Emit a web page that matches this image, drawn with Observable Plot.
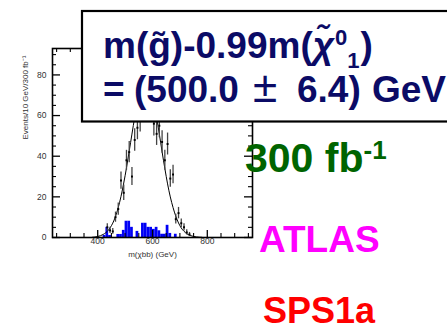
<!DOCTYPE html>
<html><head><meta charset="utf-8">
<script src="https://cdn.jsdelivr.net/npm/d3@7"></script>
<script src="https://cdn.jsdelivr.net/npm/@observablehq/plot@0.6"></script>
<style>
html,body{margin:0;padding:0;background:#fff;}
#chart{width:447px;height:324px;overflow:hidden;position:relative;}
</style></head><body><div id="chart"></div>
<script>
// ---- data ----
const binLeft  = [420,430,440,450,460,470,480,490,500,510,520,530,540,550,560,570,580,590,600,610,620,630,640,650,660,670,680,690];
const binCount = [1,5,1,0,0,1.5,1.5,3.5,8,8,5,0,3,0,7,7,5,5,4,5,3.3,1.6,1.6,6,2,0,1.6,0];

const ptX   = [435,445,455,465,475,485,495,505,515,525,535,545,555,565,575,585,595,605,615,625,635,645,655,665,675,685,695,705,715,725,735];
const ptY   = [5,3.5,3,10,14,28,22,38,42,30,48,54,58,66,74,78,72,56,51,55,47,38,46,29,31,9,12,7,5,2.5,1.5];
const ptErr = [1.8,1.5,1.4,2.5,3,4.2,3.8,4.9,5.2,4.4,5.5,5.9,6.1,6.5,6.9,7,6.8,6,5.7,5.9,5.5,4.9,5.4,4.3,4.5,2.4,2.8,2.1,1.8,1.3,1];

const fitX = [380,400,420,440,460,480,500,520,540,560,580,600,620,640,660,680,700,720,740,760,780];
const fitY = [0.1,0.5,1.5,3.8,8.6,17.3,30.4,46.7,62.9,74,76.7,69.5,55,38,23,12.5,5.8,2.4,0.9,0.3,0.1];

const yMajor = [0,20,40,60,80];
const yMinor = [5,10,15,25,30,35,45,50,55,65,70,75,85,90];
const xMajor = [400,600,800];
const xMinor = [250,300,350,450,500,550,650,700,750,850,900,950];

const xTitle = "m(\u03c7bb) (GeV)";
const yTitle = "Events/10 GeV/300 fb\u207b\u00b9";

// ---- layout ----
const W = 447, H = 324, mL = 52, mR = 195, mT = 48, mB = 87;
const fw = W - mL - mR, fh = H - mT - mB;
const font = "'Liberation Sans', Arial, sans-serif";

const hist = binLeft.map((x, i) => ({x1: x, x2: x + 10, y: binCount[i]}));
const pts = ptX.map((x, i) => ({x, y: ptY[i], e: ptErr[i]}));
const fit = fitX.map((x, i) => ({x, y: fitY[i]}));

const chart = Plot.plot({
  width: W, height: H,
  marginLeft: mL, marginRight: mR, marginTop: mT, marginBottom: mB,
  x: {domain: [235, 965], axis: null},
  y: {domain: [0, 93], axis: null},
  style: {fontFamily: font, background: "white"},
  marks: [
    Plot.rectY(hist, {x1: "x1", x2: "x2", y: "y", fill: "#0000f5"}),
    Plot.line(fit, {x: "x", y: "y", curve: "monotone-x", stroke: "black", strokeWidth: 1}),
    Plot.ruleX(pts, {x: "x", y1: d => d.y - d.e, y2: d => d.y + d.e, stroke: "#444", strokeWidth: 1.3}),
    Plot.dot(pts, {x: "x", y: "y", r: 1.1, fill: "black", stroke: "none", symbol: "square"}),
    // inner ticks (ROOT style)
    Plot.tickY(yMajor, {y: d => d, insetRight: fw - 8, stroke: "black", strokeWidth: 1.3}),
    Plot.tickY(yMinor, {y: d => d, insetRight: fw - 4, stroke: "black", strokeWidth: 1.1}),
    Plot.tickY(yMajor, {y: d => d, insetLeft: fw - 8, stroke: "black", strokeWidth: 1.3}),
    Plot.tickY(yMinor, {y: d => d, insetLeft: fw - 4, stroke: "black", strokeWidth: 1.1}),
    Plot.tickX(xMajor, {x: d => d, insetTop: fh - 7, stroke: "black", strokeWidth: 1.3}),
    Plot.tickX(xMinor, {x: d => d, insetTop: fh - 4, stroke: "black", strokeWidth: 1.1}),
    Plot.tickX(xMajor, {x: d => d, insetBottom: fh - 7, stroke: "black", strokeWidth: 1.3}),
    Plot.tickX(xMinor, {x: d => d, insetBottom: fh - 4, stroke: "black", strokeWidth: 1.1}),
    Plot.frame({stroke: "black", strokeWidth: 1.6}),
    Plot.text(yMajor, {y: d => d, frameAnchor: "left", dx: -6, textAnchor: "end", text: d => String(d), fontSize: 8.5, fill: "#333"}),
    Plot.text(xMajor, {x: d => d, frameAnchor: "bottom", dy: 6, text: d => String(d), fontSize: 8.5, fill: "#333"}),
    Plot.text([xTitle], {frameAnchor: "bottom", dy: 19, text: d => d, fontSize: 8, fill: "#333"}),
    Plot.text([yTitle], {frameAnchor: "left", dx: -27, dy: -3.5, rotate: -90, text: d => d, fontSize: 8, fill: "#333"})
  ]
});
document.getElementById("chart").appendChild(chart);

// ---- annotations ----
const svg = d3.select(chart);
const g = svg.append("g").attr("font-family", font).attr("font-weight", "bold").attr("text-anchor", "start");
g.append("rect").attr("x", 82).attr("y", 11).attr("width", 400).attr("height", 110.5)
  .attr("fill", "white").attr("stroke", "black").attr("stroke-width", 2.2);

const navy = "#0b0b66";
const t1 = g.append("text").attr("x", 103).attr("y", 58).attr("font-size", 37).attr("fill", navy);
t1.append("tspan").text("m(g\u0303)-0.99m(");
t1.append("tspan").attr("font-style", "italic").text("\u03c7\u0303");
t1.append("tspan").attr("font-size", 22).attr("dx", 1).attr("dy", -13).text("0");
t1.append("tspan").attr("font-size", 22).attr("dy", 23).text("1");
t1.append("tspan").attr("dx", 1).attr("dy", -10).text(")");

const t2 = g.append("text").attr("y", 101.7).attr("font-size", 37).attr("fill", navy);
t2.append("tspan").attr("x", 103).text("=");
t2.append("tspan").attr("x", 134).text("(500.0");
t2.append("tspan").attr("x", 253).attr("font-size", 44).attr("font-weight", "normal").text("\u00b1");
t2.append("tspan").attr("x", 297).attr("font-size", 37).attr("font-weight", "bold").text("6.4)");
t2.append("tspan").attr("x", 372).text("GeV");

const t3 = g.append("text").attr("x", 245).attr("y", 171.7).attr("font-size", 41).attr("fill", "#006400");
t3.append("tspan").text("300 fb");
t3.append("tspan").attr("font-size", 26).attr("dy", -13).text("-1");

g.append("text").attr("x", 259).attr("y", 251.7).attr("font-size", 37).attr("fill", "#ff00ff").text("ATLAS");
g.append("text").attr("x", 263).attr("y", 323).attr("font-size", 36).attr("fill", "#ff0000").text("SPS1a");
</script></body></html>
